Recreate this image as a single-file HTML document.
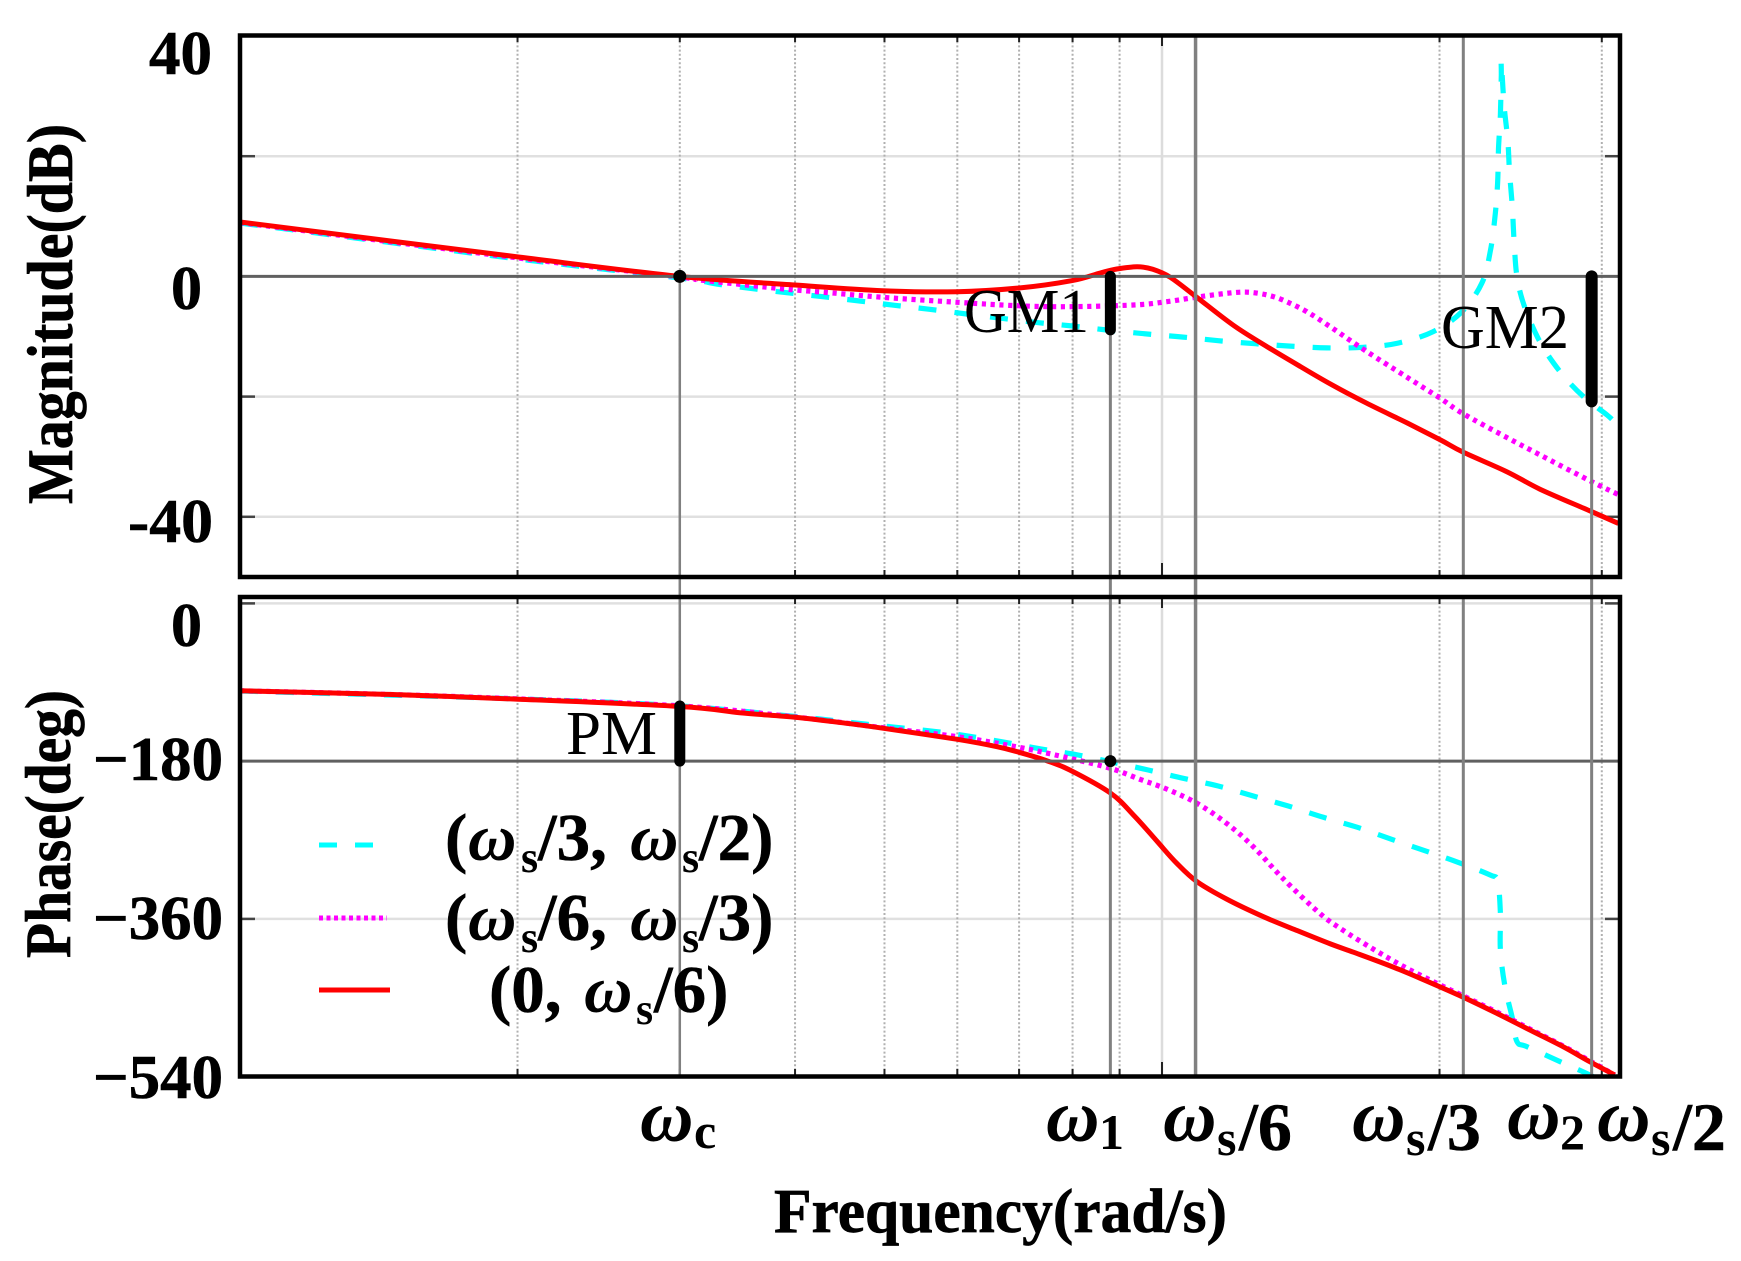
<!DOCTYPE html>
<html lang="en">
<head>
<meta charset="utf-8">
<title>Bode diagram</title>
<style>
html,body{margin:0;padding:0;background:#fff;width:1741px;height:1261px;overflow:hidden}
svg{display:block}
text{font-family:"Liberation Serif","DejaVu Serif",serif;fill:#000}
.tick{font-weight:bold;font-size:62px;stroke:#000;stroke-width:.6px}
.title{font-weight:bold;font-size:62px;stroke:#000;stroke-width:.7px}
.ann{font-size:62px}
.om{font-style:italic;font-weight:bold;font-size:74px}
.sub{font-weight:bold;font-size:50px}
.dig{font-weight:bold;font-size:68px;stroke:#000;stroke-width:.5px}
.leg{font-weight:bold;font-size:67px;stroke:#000;stroke-width:.5px}
.legom{font-weight:bold;font-style:italic;font-size:67px}
.legsub{font-weight:bold;font-size:44px}
</style>
</head>
<body>
<svg id="chart" xmlns="http://www.w3.org/2000/svg" width="1741" height="1261" viewBox="0 0 1741 1261">
  <defs>
    <clipPath id="clipTop"><rect x="240" y="35" width="1380" height="542"/></clipPath>
    <clipPath id="clipBot"><rect x="240" y="597" width="1380" height="480"/></clipPath>
  </defs>
  <g id="layer-grid"></g>
  <g id="layer-series"></g>
  <g id="layer-ref"></g>
  <g id="layer-frame"></g>

  <text class="tick" x="149" y="74" textLength="63" lengthAdjust="spacingAndGlyphs">40</text>
  <text class="tick" x="171" y="309" textLength="31" lengthAdjust="spacingAndGlyphs">0</text>
  <text class="tick" x="128" y="542" textLength="85" lengthAdjust="spacingAndGlyphs">-40</text>
  <text class="tick" x="171" y="646" textLength="31" lengthAdjust="spacingAndGlyphs">0</text>
  <text class="tick" x="93" y="780" textLength="130" lengthAdjust="spacingAndGlyphs">−180</text>
  <text class="tick" x="93" y="939" textLength="130" lengthAdjust="spacingAndGlyphs">−360</text>
  <text class="tick" x="93" y="1098" textLength="130" lengthAdjust="spacingAndGlyphs">−540</text>

  <text class="title" transform="translate(72,504) rotate(-90)" style="font-size:65px" textLength="380" lengthAdjust="spacingAndGlyphs">Magnitude(dB)</text>
  <text class="title" transform="translate(70,958) rotate(-90)" style="font-size:65px" textLength="268" lengthAdjust="spacingAndGlyphs">Phase(deg)</text>
  <text class="title" x="774" y="1232" textLength="453" lengthAdjust="spacingAndGlyphs">Frequency(rad/s)</text>

  <text class="ann" x="964" y="332" textLength="125" lengthAdjust="spacingAndGlyphs">GM1</text>
  <text class="ann" x="1441" y="348" textLength="128" lengthAdjust="spacingAndGlyphs">GM2</text>
  <text class="ann" x="566" y="754" textLength="91" lengthAdjust="spacingAndGlyphs">PM</text>

  <text y="1141"><tspan class="om" x="640">ω</tspan><tspan class="sub" x="694" y="1148">c</tspan></text>
  <text y="1141"><tspan class="om" x="1046">ω</tspan><tspan class="sub" x="1099" y="1149">1</tspan></text>
  <text y="1141"><tspan class="om" x="1163">ω</tspan><tspan class="sub" x="1217" y="1155">s</tspan><tspan class="dig" x="1239" y="1150">/6</tspan></text>
  <text y="1141"><tspan class="om" x="1352">ω</tspan><tspan class="sub" x="1406" y="1155">s</tspan><tspan class="dig" x="1428" y="1150">/3</tspan></text>
  <text y="1139"><tspan class="om" x="1507">ω</tspan><tspan class="sub" x="1560" y="1149">2</tspan></text>
  <text y="1141"><tspan class="om" x="1597">ω</tspan><tspan class="sub" x="1651" y="1155">s</tspan><tspan class="dig" x="1673" y="1150">/2</tspan></text>

  <line x1="319" y1="845" x2="373" y2="845" stroke="#00ffff" stroke-width="5" stroke-dasharray="18 18"/>
  <line x1="319" y1="918" x2="387" y2="918" stroke="#ff00ff" stroke-width="5" stroke-dasharray="4 3.5"/>
  <line x1="319" y1="990" x2="390" y2="990" stroke="#ff0000" stroke-width="5"/>
  <text y="860"><tspan class="leg" x="445">(</tspan><tspan class="legom" x="468">ω</tspan><tspan class="legsub" x="521" y="872">s</tspan><tspan class="leg" x="538" y="860">/3,</tspan><tspan class="legom" x="630">ω</tspan><tspan class="legsub" x="682" y="872">s</tspan><tspan class="leg" x="699" y="860">/2)</tspan></text>
  <text y="940"><tspan class="leg" x="445">(</tspan><tspan class="legom" x="468">ω</tspan><tspan class="legsub" x="521" y="952">s</tspan><tspan class="leg" x="538" y="940">/6,</tspan><tspan class="legom" x="630">ω</tspan><tspan class="legsub" x="682" y="952">s</tspan><tspan class="leg" x="699" y="940">/3)</tspan></text>
  <text y="1012"><tspan class="leg" x="489">(0,</tspan><tspan class="legom" x="584">ω</tspan><tspan class="legsub" x="636" y="1024">s</tspan><tspan class="leg" x="654" y="1012">/6)</tspan></text>
</svg>
<script>
// Frequency is stored as log10(omega); magnitudes in dB; phases in degrees.
const magRedW = [0,.302,.477,.602,.697,.778,.845,.902,.933,.951,.973,.990,1.009,1.037,1.077,1.114,1.150,1.185,1.222,1.266,1.302,1.326,1.374,1.410,1.464,1.495];
const magRedDb = [9.05,3.23,0,-1.43,-2.38,-2.55,-1.93,-.72,.57,1.23,1.61,1.18,-.15,-3.38,-8.09,-11.7,-15.0,-18.1,-21.1,-24.4,-27.2,-29.2,-32.5,-35.4,-39.0,-41.1];
const magMagentaW = [0,.302,.477,.499,.572,.602,.643,.697,.778,.843,.897,.969,1.005,1.041,1.077,1.095,1.114,1.131,1.157,1.185,1.222,1.266,1.302,1.326,1.374,1.410,1.464,1.495];
const magMagentaDb = [8.97,3.06,-.1,-.6,-1.81,-2.26,-2.76,-3.48,-4.31,-4.88,-5.04,-4.76,-4.21,-3.38,-2.71,-2.65,-3.09,-3.93,-5.87,-8.64,-12.5,-16.8,-20.3,-22.8,-26.8,-29.7,-34.0,-36.3];
const magCyanW = [0,.302,.477,.517,.553,.593,.632,.672,.710,.748,.788,.826,.866,.903,.940,.984,1.023,1.061,1.101,1.139,1.179,1.218,1.256,1.294,1.325,1.347,1.356,1.361,1.364,1.365,1.367,1.368,1.368,1.371,1.375,1.377,1.380,1.382,1.385,1.393,1.410,1.432,1.457,1.483,1.495];
const magCyanDb = [8.89,2.9,-.27,-1.26,-1.98,-2.71,-3.38,-4.09,-4.81,-5.47,-6.26,-6.97,-7.7,-8.25,-8.92,-9.58,-10.1,-10.7,-11.2,-11.6,-11.9,-11.8,-11.1,-9.2,-5.92,-1.1,4.11,9.67,15.5,21.3,26.9,33.5,35.7,28.5,22.7,17.2,11.4,5.56,-.05,-4.93,-10.9,-15.9,-20.0,-23.1,-24.9];

const phRedW = [0,.161,.302,.477,.542,.602,.658,.698,.778,.821,.845,.875,.900,.944,.969,.995,1.016,1.038,1.070,1.110,1.147,1.183,1.208,1.245,1.280,1.327,1.363,1.399,1.435,1.464,1.491];
const phRedDeg = [-99.7,-103.8,-109.3,-117.6,-124.7,-130.0,-136.8,-142.5,-155.1,-163.5,-169.9,-179.5,-190.1,-216.3,-241.4,-271.9,-296.6,-317.5,-337.3,-357.5,-373.5,-388.6,-398.1,-412.6,-427.8,-449.5,-467.7,-486.8,-505.8,-522.9,-538.1];
const phMagentaW = [0,.161,.302,.477,.602,.698,.778,.845,.900,.944,.976,1.005,1.038,1.070,1.099,1.131,1.171,1.196,1.229,1.261,1.298,1.327,1.363,1.399,1.435,1.464,1.491];
const phMagentaDeg = [-99.7,-103.8,-109,-117,-129.6,-142,-152.1,-164.2,-176.7,-188.2,-200.7,-211.8,-228.1,-250.9,-277.6,-313.7,-353.6,-372.7,-394.3,-413.7,-433.5,-448.0,-466.2,-485.6,-505,-522,-538.1];
const phCyanW = [0,.302,.477,.602,.658,.698,.756,.794,.832,.871,.909,.949,.985,1.023,1.061,1.099,1.137,1.175,1.212,1.249,1.285,1.321,1.356,1.364,1.367,1.367,1.372,1.380,1.385,1.396,1.432,1.464,1.475];
const phCyanDeg = [-100,-109,-117,-129,-135.3,-139.9,-146.4,-152.1,-158.9,-166.5,-173,-181.8,-190.1,-199.6,-208.4,-219.8,-231.2,-244.1,-255.5,-269.2,-282.2,-295.4,-309.9,-316.8,-353.6,-395.5,-437.3,-473.4,-500.1,-505.8,-522.9,-538.1,-545];

const magGridDb = [20,-20,-40];
const phaseGridDeg = [0,-360];
const minorFreqLogs = [.301,.477,.602,.699,.778,.845,.903,.954,1.301,1.477];
const decadeLog = [1];
const refOmegaC = .477;
const refOmega1 = .944;
const refOmegaS6 = 1.0364;
const refOmegaS3 = 1.3268;
const refOmega2 = 1.466;
const gm1Db = -8.9;
const gm2Db = -20.8;
const pmDeg = -117;

const xAxis = w => 240 + 922 * w;
const yMag = db => 276.4 - 6.01 * db;
const yPhase = deg => 603.4 - 0.8764 * deg;

const NS = 'http://www.w3.org/2000/svg';
function mk(tag, parent, props) {
  const el = document.createElementNS(NS, tag);
  for (const k in props) el.setAttribute(k, props[k]);
  parent.appendChild(el);
  return el;
}
function hline(parent, x1, x2, y, stroke, width) {
  return mk('line', parent, {x1: x1, x2: x2, y1: y, y2: y, stroke: stroke, 'stroke-width': width});
}
function vline(parent, x, y1, y2, stroke, width) {
  return mk('line', parent, {x1: x, x2: x, y1: y1, y2: y2, stroke: stroke, 'stroke-width': width});
}
function smoothPath(px) {
  let d = 'M' + px[0][0].toFixed(1) + ' ' + px[0][1].toFixed(1);
  for (let i = 0; i < px.length - 1; i++) {
    const p0 = px[Math.max(i - 1, 0)], p1 = px[i], p2 = px[i + 1], p3 = px[Math.min(i + 2, px.length - 1)];
    const c1x = p1[0] + (p2[0] - p0[0]) / 6, c1y = p1[1] + (p2[1] - p0[1]) / 6;
    const c2x = p2[0] - (p3[0] - p1[0]) / 6, c2y = p2[1] - (p3[1] - p1[1]) / 6;
    d += 'C' + c1x.toFixed(1) + ' ' + c1y.toFixed(1) + ' ' + c2x.toFixed(1) + ' ' + c2y.toFixed(1) + ' ' + p2[0].toFixed(1) + ' ' + p2[1].toFixed(1);
  }
  return d;
}
function curve(parent, ws, vs, yFn, stroke, width, dash, clip) {
  const px = ws.map((w, i) => [xAxis(w), yFn(vs[i])]);
  const props = {d: smoothPath(px), fill: 'none', stroke: stroke, 'stroke-width': width, 'stroke-linejoin': 'round', 'clip-path': 'url(#' + clip + ')'};
  if (dash) props['stroke-dasharray'] = dash;
  return mk('path', parent, props);
}

const grid = document.getElementById('layer-grid');
const series = document.getElementById('layer-series');
const ref = document.getElementById('layer-ref');
const frame = document.getElementById('layer-frame');

// grid: horizontal
magGridDb.forEach(db => {
  const g = hline(grid, 240, 1620, yMag(db), '#e0e0e0', 2.5);
  
  
  const t1 = hline(grid, 242, 255, yMag(db), '#444', 2.5);
  
  
  const t2 = hline(grid, 1605, 1618, yMag(db), '#444', 2.5);
  
  
});
phaseGridDeg.forEach(deg => {
  const g = hline(grid, 240, 1620, yPhase(deg), '#e0e0e0', 2.5);
  
  
  const t1 = hline(grid, 242, 255, yPhase(deg), '#444', 2.5);
  
  
  const t2 = hline(grid, 1605, 1618, yPhase(deg), '#444', 2.5);
  
  
});
// grid: vertical
minorFreqLogs.forEach(w => {
  const x = xAxis(w);
  const a = vline(grid, x, 37, 576, '#b0b0b0', 2);
  a.setAttribute('stroke-dasharray', '2 2.2');
  
  
  const b = vline(grid, x, 598, 1076, '#b0b0b0', 2);
  b.setAttribute('stroke-dasharray', '2 2.2');
  
  
  [[36, 42], [570, 577], [598, 604], [1069, 1076]].forEach(r => {
    const t = vline(grid, x, r[0], r[1], '#222', 2);
    
    
  });
});
decadeLog.forEach(w => {
  const x = xAxis(w);
  const a = vline(grid, x, 37, 576, '#dcdcdc', 2.5);
  
  
  const b = vline(grid, x, 598, 1076, '#dcdcdc', 2.5);
  
  
  [[36, 46], [563, 577], [598, 608], [1062, 1076]].forEach(r => {
    const t = vline(grid, x, r[0], r[1], '#222', 2);
    
    
  });
});

// series
const s1 = curve(series, magCyanW, magCyanDb, yMag, '#00ffff', 5.2, '18 18', 'clipTop');


const s2 = curve(series, magMagentaW, magMagentaDb, yMag, '#ff00ff', 5.2, '4.2 4.6', 'clipTop');


const s3 = curve(series, magRedW, magRedDb, yMag, '#ff0000', 5, null, 'clipTop');


const s4 = curve(series, phCyanW, phCyanDeg, yPhase, '#00ffff', 5.2, '18 18', 'clipBot');


const s5 = curve(series, phMagentaW, phMagentaDeg, yPhase, '#ff00ff', 5.2, '4.2 4.6', 'clipBot');


const s6 = curve(series, phRedW, phRedDeg, yPhase, '#ff0000', 5, null, 'clipBot');



// reference lines
const r0 = hline(ref, 240, 1620, yMag(0), '#606060', 3);


const r180 = hline(ref, 240, 1620, yPhase(-180), '#606060', 3);



const rc = vline(ref, xAxis(refOmegaC), yMag(0), 1076, '#808080', 2.5);


const r1 = vline(ref, xAxis(refOmega1), yMag(gm1Db), 1076, '#808080', 3);


const r6 = vline(ref, xAxis(refOmegaS6), 37, 1076, '#808080', 3.5);


const r3a = vline(ref, xAxis(refOmegaS3), 37, 577, '#808080', 3);


const r3b = vline(ref, xAxis(refOmegaS3), 597, 1076, '#808080', 3);


const r2 = vline(ref, xAxis(refOmega2), yMag(gm2Db), 1076, '#808080', 3);



// margin bars
const gm1 = vline(ref, xAxis(refOmega1), yMag(0), yMag(gm1Db), '#000', 11);
gm1.setAttribute('stroke-linecap', 'round');


const gm2 = vline(ref, xAxis(refOmega2), yMag(0), yMag(gm2Db), '#000', 12);
gm2.setAttribute('stroke-linecap', 'round');


const pm = vline(ref, xAxis(refOmegaC), yPhase(pmDeg), yPhase(-180), '#000', 11);
pm.setAttribute('stroke-linecap', 'round');



// crossover dots
const d1 = mk('circle', ref, {cx: xAxis(refOmegaC), cy: yMag(0), r: 6.5, fill: '#000'});


const d2 = mk('circle', ref, {cx: xAxis(refOmega1), cy: yPhase(-180), r: 6, fill: '#000'});



// frames
const f1 = mk('rect', frame, {x: 240, y: 35.5, width: 1380, height: 541.5, fill: 'none', stroke: '#000', 'stroke-width': 4.5});


const f2 = mk('rect', frame, {x: 240, y: 597, width: 1380, height: 479.5, fill: 'none', stroke: '#000', 'stroke-width': 4.5});


</script>
</body>
</html>
